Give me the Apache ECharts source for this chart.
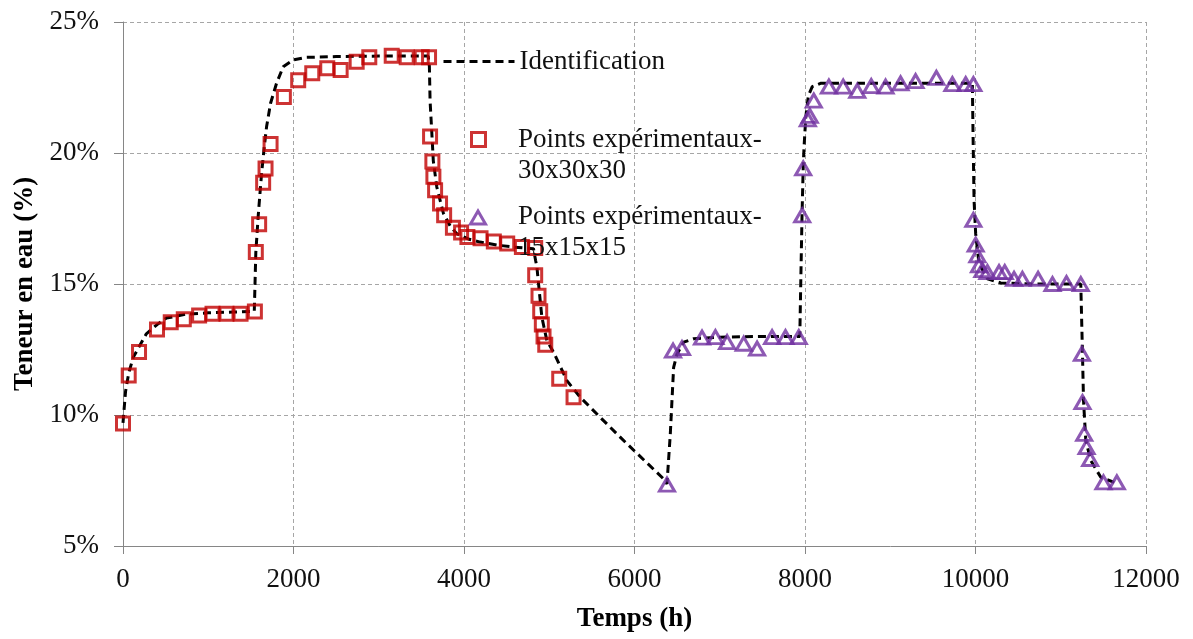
<!DOCTYPE html>
<html>
<head>
<meta charset="utf-8">
<script src="https://cdn.jsdelivr.net/npm/echarts@6/dist/echarts.min.js"></script>
<style>
html,body{margin:0;padding:0;background:#fff;}
#chart{width:1193px;height:639px;}
</style>
</head>
<body>
<div id="chart"></div>
<script>
// Identification curve (time h, water content %)
const identT = [0,30,67,120,188,274,400,509,744,1000,1300,1540,1558,1586,1625,1656,1684,1731,1801,1879,1996,2153,2500,3000,3580,3594,3602,3622,3640,3681,3758,3840,3915,4050,4189,4400,4580,4815,4840,4855,4894,4913,4972,5050,5207,5363,5598,5912,6342,6381,6420,6459,6499,6577,6694,7000,7500,7939,7950,7965,7980,7990,8010,8040,8085,8182,9000,9963,9971,9983,10002,10041,10140,10296,10700,11235,11255,11267,11294,11353,11470,11627];
const identV = [9.7,10.9,11.6,12.2,12.6,13.1,13.45,13.7,13.85,13.9,13.93,13.95,16.2,17.6,19.2,20.2,21.0,21.9,22.66,23.29,23.55,23.65,23.68,23.7,23.7,23.3,22.0,20.8,19.7,18.7,17.7,17.2,16.92,16.72,16.6,16.48,16.41,16.35,15.9,15.65,14.37,13.74,12.84,12.4,11.31,10.68,9.91,8.9,7.56,7.37,9.28,11.82,12.33,12.78,12.91,12.97,13.0,13.0,15.0,17.6,19.6,20.3,21.4,22.2,22.53,22.66,22.66,22.66,20.75,18.2,16.92,15.78,15.2,15.04,15.0,15.0,12.33,10.55,9.02,8.26,7.62,7.43];

// Experimental points 30x30x30
const sqT = [0,67,188,399,560,713,893,1050,1214,1379,1547,1558,1597,1644,1672,1731,1887,2055,2220,2396,2553,2741,2889,3152,3328,3504,3590,3602,3629,3641,3661,3719,3767,3870,3966,4040,4194,4350,4507,4679,4835,4835,4874,4894,4913,4933,4953,5117,5285];
const sqV = [9.68,11.51,12.4,13.26,13.54,13.65,13.8,13.86,13.86,13.86,13.95,16.22,17.28,18.86,19.41,20.34,22.14,22.78,23.04,23.23,23.17,23.48,23.65,23.71,23.65,23.65,23.65,20.63,19.68,19.09,18.58,18.07,17.62,17.15,16.97,16.79,16.75,16.62,16.55,16.41,16.37,15.33,14.55,13.96,13.45,13.0,12.68,11.38,10.68];

// Experimental points 15x15x15
const triT = [6381,6452,6557,6792,6949,7086,7281,7438,7614,7771,7927,7967,7979,8033,8056,8103,8280,8448,8613,8777,8945,9121,9297,9541,9729,9885,9975,9975,10002,10022,10041,10081,10140,10276,10343,10452,10550,10734,10903,11067,11235,11248,11255,11275,11303,11345,11501,11658];
const triV = [7.34,12.46,12.55,12.95,12.97,12.78,12.72,12.53,12.97,12.97,12.97,17.62,19.41,21.28,21.42,22.0,22.53,22.53,22.37,22.55,22.53,22.66,22.74,22.87,22.63,22.63,22.63,17.45,16.5,16.09,15.71,15.53,15.45,15.45,15.45,15.2,15.2,15.2,15.0,15.03,15.0,12.33,10.49,9.28,8.77,8.32,7.43,7.43];

const xTicks = [0,2000,4000,6000,8000,10000,12000];
const yTicks = [5,10,15,20,25];

const names = ['Identification','Points expérimentaux-30x30x30','Points expérimentaux-15x15x15'];
const FONT = '"Liberation Serif","DejaVu Serif",serif';

const zip = (a,b)=>a.map((v,i)=>[v,b[i]]);

const chart = echarts.init(document.getElementById('chart'), null, {renderer:'canvas'});
const legendText = {fontFamily:FONT,fontSize:27,color:'#111',lineHeight:31};
const fmt = n => n.replace('-', '-\n');
const hidden = {color:'rgba(0,0,0,0)',borderColor:'rgba(0,0,0,0)',borderWidth:0,opacity:0};
const base = {selectedMode:false,padding:0,textStyle:legendText};
chart.setOption({
  animation:false,
  backgroundColor:'#fff',
  grid:{left:123,right:47,top:22,bottom:93,containLabel:false},
  xAxis:{
    type:'value',min:xTicks[0],max:xTicks[xTicks.length-1],interval:2000,
    name:'Temps (h)',nameLocation:'middle',nameGap:60,
    nameTextStyle:{fontFamily:FONT,fontSize:27,fontWeight:'bold',color:'#000'},
    axisLine:{lineStyle:{color:'#868686',width:1}},
    axisTick:{show:true,length:8,lineStyle:{color:'#868686'}},
    axisLabel:{fontFamily:FONT,fontSize:27,color:'#111',margin:20,formatter:v=>String(v)},
    splitLine:{show:true,lineStyle:{color:'#a6a6a6',type:[4,3],width:1}}
  },
  yAxis:{
    type:'value',min:yTicks[0],max:yTicks[yTicks.length-1],interval:5,
    name:'Teneur en eau (%)',nameLocation:'middle',nameGap:81,nameRotate:90,
    nameTextStyle:{fontFamily:FONT,fontSize:27,fontWeight:'bold',color:'#000'},
    axisLine:{show:true,lineStyle:{color:'#868686',width:1}},
    axisTick:{show:true,length:9,lineStyle:{color:'#868686'}},
    axisLabel:{fontFamily:FONT,fontSize:27,color:'#111',margin:24,formatter:'{value}%'},
    splitLine:{show:true,lineStyle:{color:'#a6a6a6',type:[4,3],width:1}}
  },
  legend:[
    Object.assign({},base,{data:[names[0]],left:442,top:46,itemWidth:71,itemHeight:14,itemStyle:hidden,
      lineStyle:{width:3,type:[8,5],color:'#000'}}),
    // icons only
    Object.assign({},base,{data:[names[1]],left:470,top:124,itemWidth:14,itemHeight:14,formatter:()=>' ',
      itemStyle:{color:'rgba(255,255,255,0)',borderColor:'#C00000',borderWidth:3}}),
    Object.assign({},base,{data:[names[2]],left:469,top:202,itemWidth:15,itemHeight:13,formatter:()=>' ',
      itemStyle:{color:'rgba(255,255,255,0)',borderColor:'#7030A0',borderWidth:3}}),
    // texts only
    Object.assign({},base,{data:[names[1]],left:442,top:124,itemWidth:71,itemHeight:14,formatter:fmt,itemStyle:hidden}),
    Object.assign({},base,{data:[names[2]],left:442,top:201,itemWidth:71,itemHeight:14,formatter:fmt,itemStyle:hidden})
  ],
  series:[
    {name:names[0],type:'line',data:zip(identT,identV),symbol:'none',smooth:false,z:2,
     lineStyle:{color:'#000',width:3,type:[8,5]},itemStyle:{color:'#000'}},
    {name:names[1],type:'scatter',data:zip(sqT,sqV),symbol:'rect',symbolSize:13,z:3,
     itemStyle:{color:'rgba(255,255,255,0)',borderColor:'#C00000',borderWidth:3}},
    {name:names[2],type:'scatter',data:zip(triT,triV),symbol:'triangle',symbolSize:[15,13],z:3,
     itemStyle:{color:'rgba(255,255,255,0)',borderColor:'#7030A0',borderWidth:3}}
  ]
});
</script>
</body>
</html>
